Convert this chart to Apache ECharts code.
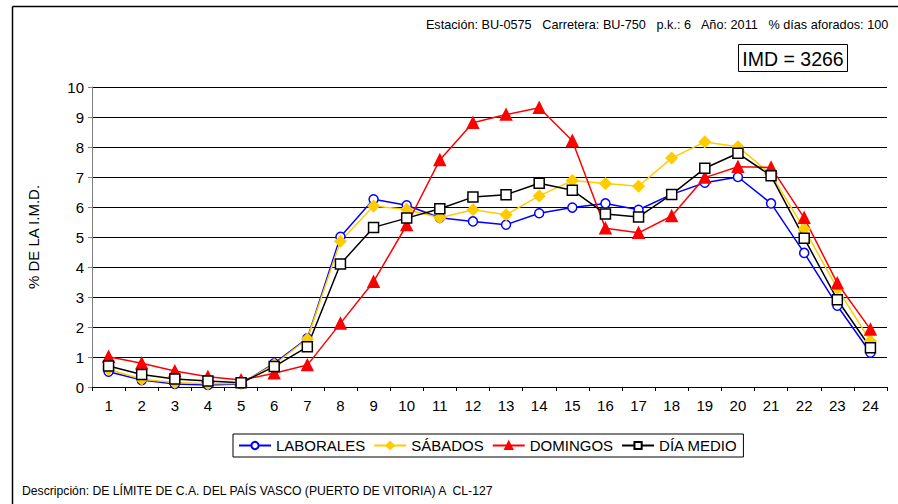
<!DOCTYPE html>
<html><head><meta charset="utf-8">
<script src="https://cdn.jsdelivr.net/npm/echarts@6/dist/echarts.min.js"></script>
<style>html,body{margin:0;padding:0;background:#fff}#c{width:898px;height:504px}</style>
</head><body><div id="c"></div>
<script>
const hours = ['1','2','3','4','5','6','7','8','9','10','11','12','13','14','15','16','17','18','19','20','21','22','23','24'];
const laborales = [0.51,0.23,0.10,0.07,0.10,0.79,1.62,5.01,6.26,6.06,5.64,5.52,5.41,5.79,5.98,6.12,5.91,6.42,6.81,7.00,6.12,4.47,2.71,1.14];
const sabados   = [0.59,0.26,0.15,0.11,0.12,0.75,1.60,4.86,6.03,5.92,5.64,5.91,5.74,6.37,6.88,6.78,6.69,7.63,8.17,8.01,7.09,5.27,3.29,1.53];
const domingos  = [1.01,0.79,0.53,0.34,0.23,0.46,0.73,2.12,3.51,5.40,7.57,8.81,9.08,9.31,8.21,5.29,5.14,5.70,6.98,7.34,7.32,5.64,3.46,1.92];
const diaMedio  = [0.70,0.42,0.27,0.20,0.14,0.68,1.34,4.10,5.32,5.63,5.94,6.33,6.41,6.79,6.56,5.77,5.67,6.42,7.29,7.79,7.04,4.96,2.91,1.31];
const yTicks = [0,1,2,3,4,5,6,7,8,9,10];
const headerText = 'Estación: BU-0575   Carretera: BU-750   p.k.: 6   Año: 2011   % días aforados: 100';
const imdText = 'IMD = 3266';
const descText = 'Descripción: DE LÍMITE DE C.A. DEL PAÍS VASCO (PUERTO DE VITORIA) A  CL-127';

const F = 'Liberation Sans, Arial, sans-serif';
const chart = echarts.init(document.getElementById('c'), null, {renderer:'svg'});
function ser(name, data, color, symbol, size, fill){
  return {name, type:'line', data, symbol, symbolSize:size, showAllSymbol:true,
    lineStyle:{color, width:1.5}, itemStyle:{color:fill, borderColor:color, borderWidth:1.5},
    emphasis:{disabled:true}, animation:false, z: 3};
}
chart.setOption({
  animation:false,
  textStyle:{fontFamily:F},
  grid:{left:92, right:11, top:87, bottom:117, containLabel:false},
  xAxis:{type:'category', data:hours, boundaryGap:true,
    axisLine:{lineStyle:{color:'#000', width:1}},
    axisTick:{show:true, length:4, inside:false, alignWithLabel:false, lineStyle:{color:'#000'}},
    axisLabel:{color:'#000', fontSize:15, margin:11, fontFamily:F, interval:0},
    splitLine:{show:false}},
  yAxis:{type:'value', min:yTicks[0], max:yTicks[yTicks.length-1], interval:1,
    name:'% DE LA I.M.D.', nameLocation:'middle', nameGap:51, nameRotate:90,
    nameTextStyle:{color:'#000', fontSize:15, fontFamily:F},
    axisLine:{show:true, lineStyle:{color:'#808080', width:1}},
    axisTick:{show:true, length:4, lineStyle:{color:'#808080'}},
    axisLabel:{color:'#000', fontSize:15, margin:8, fontFamily:F},
    splitLine:{show:true, lineStyle:{color:'#000', width:1}}},
  legend:{show:true, left:233, top:434, itemGap:8, itemWidth:32, itemHeight:9,
    padding:[4,6,4,5], borderColor:'#000', borderWidth:1, backgroundColor:'#fff',
    textStyle:{color:'#000', fontSize:15, fontFamily:F},
    data:['LABORALES','SÁBADOS','DOMINGOS','DÍA MEDIO']},
  series:[
    ser('LABORALES', laborales, '#0000FF', 'circle', 9, '#fff'),
    ser('SÁBADOS', sabados, '#FFCC00', 'diamond', 11, '#FFCC00'),
    ser('DOMINGOS', domingos, '#FF0000', 'triangle', 11, '#FF0000'),
    ser('DÍA MEDIO', diaMedio, '#000000', 'rect', 10, '#fff')
  ],
  graphic:[
    {type:'line', shape:{x1:12.5,y1:6.5,x2:898,y2:6.5}, style:{stroke:'#000', lineWidth:1.5}, silent:true},
    {type:'line', shape:{x1:12.5,y1:6.5,x2:12.5,y2:504}, style:{stroke:'#000', lineWidth:1.5}, silent:true},
    {type:'text', right:9, top:18, style:{text:headerText, fill:'#000', font:'12.7px '+F}},
    {type:'rect', shape:{x:738.5,y:44.5,width:109,height:27}, style:{fill:'#fff', stroke:'#000', lineWidth:1}},
    {type:'text', x:793, y:58.5, style:{text:imdText, fill:'#000', font:'19.5px '+F, textAlign:'center', textVerticalAlign:'middle'}},
    {type:'text', x:22, y:491, style:{text:descText, fill:'#000', font:'12.2px '+F, textVerticalAlign:'middle'}}
  ]
});
</script></body></html>
